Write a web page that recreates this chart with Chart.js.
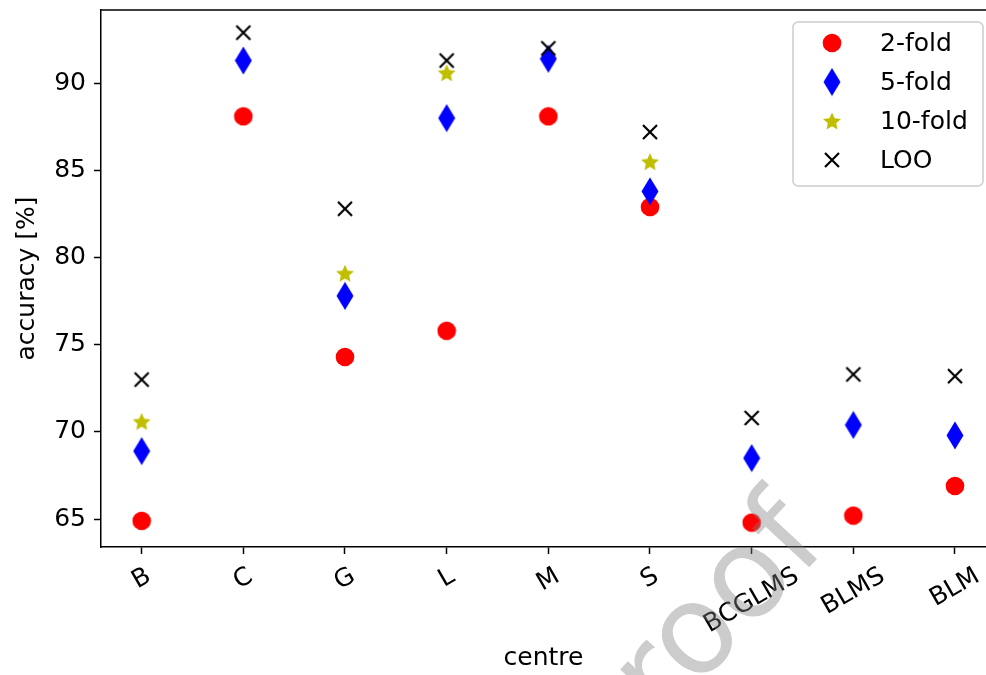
<!DOCTYPE html>
<html>
<head>
<meta charset="utf-8">
<script src="https://cdn.jsdelivr.net/npm/chart.js@4"></script>
<style>
html, body { margin: 0; padding: 0; background: #fff; overflow: hidden; }
</style>
</head>
<body>
<canvas id="accChart" width="986" height="675"></canvas>
<script>
const centres = ['B', 'C', 'G', 'L', 'M', 'S', 'BCGLMS', 'BLMS', 'BLM'];
const twoFold = [64.9, 88.1, 74.3, 75.8, 88.1, 82.9, 64.8, 65.2, 66.9];
const fiveFold = [68.9, 91.3, 77.8, 88.0, 91.4, 83.8, 68.5, 70.4, 69.8];
const tenFold = [70.6, null, 79.1, 90.6, null, 85.5, null, null, null];
const loo = [73.0, 92.9, 82.8, 91.3, 92.0, 87.2, 70.8, 73.3, 73.2];
const yTicks = [65, 70, 75, 80, 85, 90];

Chart.defaults.font.family = 'DejaVu Sans';
Chart.defaults.color = '#000';

// marker images, drawn once
function marker(w, h, draw) {
    const c = document.createElement('canvas');
    c.width = w; c.height = h;
    draw(c.getContext('2d'), w, h);
    return c;
}
const circleImg = marker(20, 20, (g, w, h) => {
    g.fillStyle = '#ff0000';
    g.beginPath(); g.arc(w / 2, h / 2, 9.3, 0, Math.PI * 2); g.fill();
});
const diamondImg = marker(18, 29, (g, w, h) => {
    g.fillStyle = '#0000ff';
    g.beginPath();
    g.moveTo(w / 2, 0.5); g.lineTo(w - 0.5, h / 2); g.lineTo(w / 2, h - 0.5); g.lineTo(0.5, h / 2);
    g.closePath(); g.fill();
});
const starImg = marker(20, 20, (g, w, h) => {
    g.fillStyle = '#bfbf00';
    g.beginPath();
    for (let i = 0; i < 10; i++) {
        const r = i % 2 ? 4.4 : 9.4;
        const a = -Math.PI / 2 + i * Math.PI / 5;
        g.lineTo(w / 2 + r * Math.cos(a), h / 2 + 0.8 + r * Math.sin(a));
    }
    g.closePath(); g.fill();
});
const crossImg = marker(18, 18, (g, w, h) => {
    g.strokeStyle = '#000'; g.lineWidth = 2.2;
    g.beginPath();
    g.moveTo(2, 2); g.lineTo(w - 2, h - 2);
    g.moveTo(w - 2, 2); g.lineTo(2, h - 2);
    g.stroke();
});

const toPoints = arr => arr.map((v, i) => ({x: i, y: v})).filter(p => p.y !== null);

const series = [
    {label: '2-fold', values: twoFold, img: circleImg},
    {label: '5-fold', values: fiveFold, img: diamondImg},
    {label: '10-fold', values: tenFold, img: starImg},
    {label: 'LOO', values: loo, img: crossImg}
];

const framePlugin = {
    id: 'frame',
    afterDraw(chart) {
        const {ctx, chartArea: a, scales} = chart;
        ctx.save();
        // top spine (the right one falls just outside the picture)
        ctx.strokeStyle = '#000'; ctx.lineWidth = 1.5;
        ctx.beginPath();
        ctx.moveTo(a.left, a.top); ctx.lineTo(chart.width, a.top);
        ctx.stroke();

        // x tick labels, rotated 30deg and centred under the tick
        ctx.font = '25px "DejaVu Sans"';
        ctx.fillStyle = '#000';
        ctx.textAlign = 'center'; ctx.textBaseline = 'middle';
        const rot = 30 * Math.PI / 180;
        centres.forEach((c, i) => {
            const x = scales.x.getPixelForValue(i);
            const w = ctx.measureText(c).width, h = 29;
            const H = w * Math.sin(rot) + h * Math.cos(rot);
            ctx.save();
            ctx.translate(x, a.bottom + 15 + H / 2);
            ctx.rotate(-rot);
            ctx.fillText(c, 0, 0);
            ctx.restore();
        });

        // legend box
        const lx = 793, ly = a.top + 12, lw = 190, lh = 164;
        ctx.beginPath();
        ctx.roundRect(lx, ly, lw, lh, 5);
        ctx.fillStyle = 'rgba(255,255,255,0.8)'; ctx.fill();
        ctx.strokeStyle = '#cccccc'; ctx.lineWidth = 1.5; ctx.stroke();
        ctx.fillStyle = '#000'; ctx.textAlign = 'left';
        series.forEach((s, i) => {
            const y = ly + 21 + i * 39;
            ctx.drawImage(s.img, lx + 39 - s.img.width / 2, y - s.img.height / 2);
            ctx.fillText(s.label, lx + 87, y + 1);
        });

        // watermark
        ctx.font = '125px "DejaVu Sans"';
        ctx.fillStyle = 'rgba(128,128,128,0.4)';
        ctx.textAlign = 'right'; ctx.textBaseline = 'alphabetic';
        ctx.translate(830, 545);
        ctx.rotate(-47 * Math.PI / 180);
        ctx.fillText('Journal Pre-proof', 0, 0);
        ctx.restore();
    }
};

new Chart(document.getElementById('accChart'), {
    type: 'scatter',
    data: {
        datasets: series.map((s, i) => ({
            label: s.label,
            data: toPoints(s.values),
            pointStyle: s.img,
            pointRadius: 9,
            order: series.length - i
        }))
    },
    options: {
        responsive: false,
        animation: false,
        layout: { autoPadding: false, padding: { top: 10, right: 0 } },
        plugins: {
            legend: { display: false },
            tooltip: { enabled: false }
        },
        scales: {
            x: {
                type: 'linear',
                min: -0.4,
                max: 8.305,
                afterBuildTicks: s => { s.ticks = centres.map((c, i) => ({value: i})); },
                afterFit: s => { s.height = 128; s.paddingLeft = 0; s.paddingRight = 0; },
                ticks: { display: false },
                grid: { drawOnChartArea: false, tickLength: 7, tickColor: '#000', tickWidth: 1.5 },
                border: { color: '#000', width: 1.5 },
                title: { display: true, text: 'centre', font: { size: 25 }, padding: { bottom: 2 } }
            },
            y: {
                min: 63.4,
                max: 94.2,
                afterBuildTicks: s => { s.ticks = yTicks.map(v => ({value: v})); },
                afterFit: s => { s.width = 101; s.paddingTop = 0; s.paddingBottom = 0; },
                ticks: { font: { size: 25 }, padding: 8 },
                grid: { drawOnChartArea: false, tickLength: 7, tickColor: '#000', tickWidth: 1.5 },
                border: { color: '#000', width: 1.5 },
                title: { display: true, text: 'accuracy [%]', font: { size: 25 }, padding: { top: 12 } }
            }
        }
    },
    plugins: [framePlugin]
});
</script>
</body>
</html>
